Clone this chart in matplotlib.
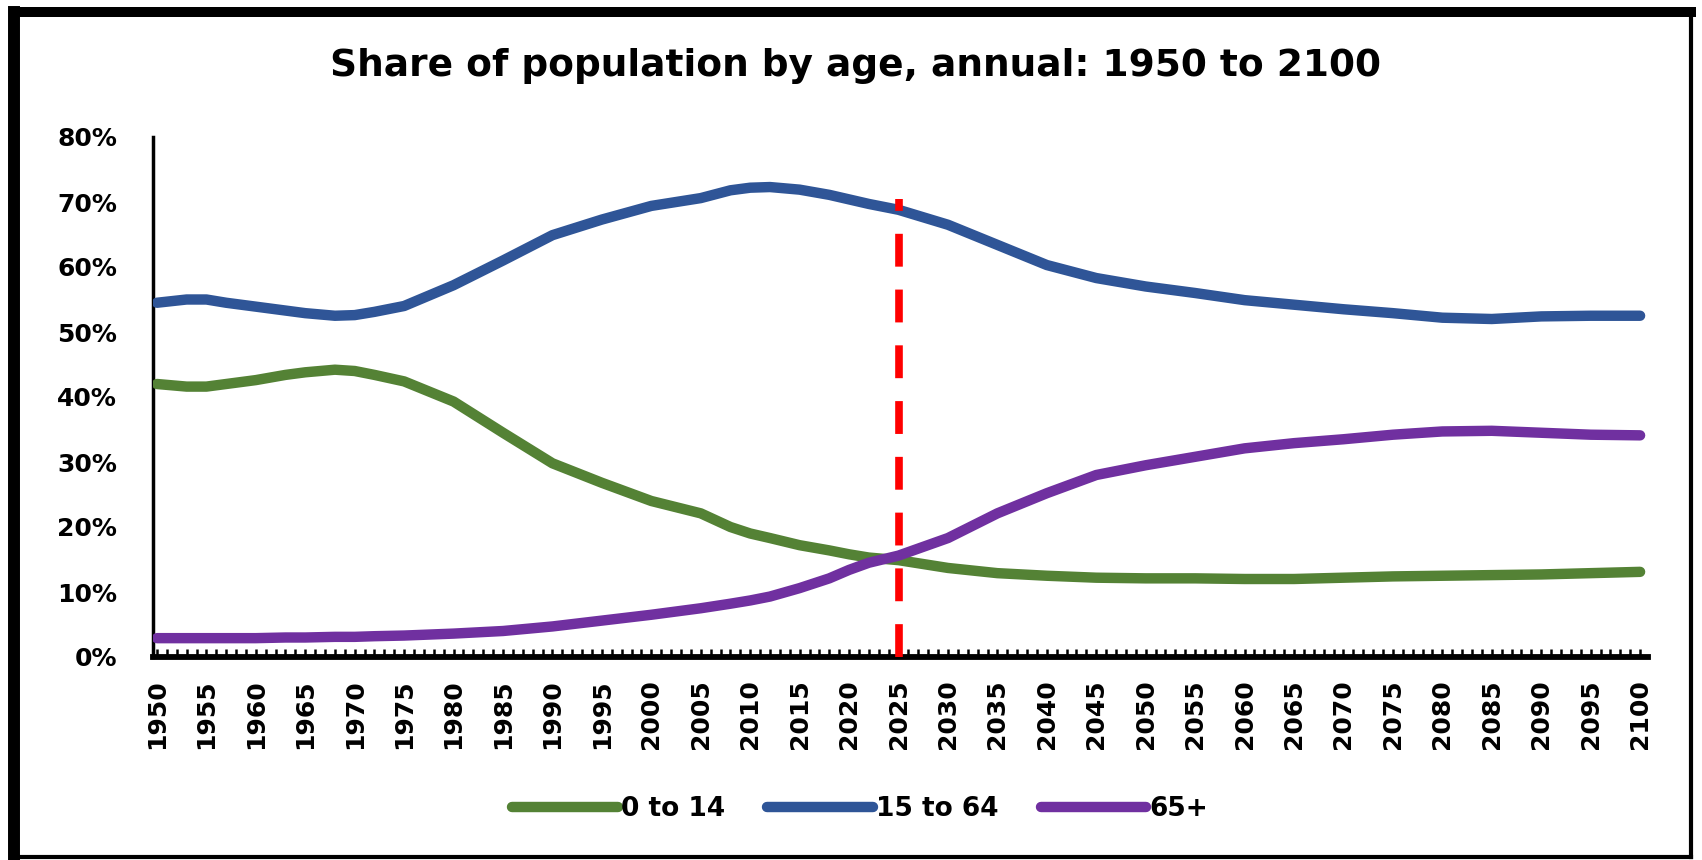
import matplotlib
matplotlib.use("Agg")
import matplotlib.pyplot as plt
from matplotlib.lines import Line2D
from matplotlib.ticker import MultipleLocator, FuncFormatter

# values (percent of population)
years = [1950, 1953, 1955, 1957, 1960, 1963, 1965, 1968, 1970, 1972, 1975,
         1980, 1985, 1990, 1995, 2000, 2005, 2008, 2010, 2012, 2015, 2018,
         2020, 2022, 2025, 2030, 2035, 2040, 2045, 2050, 2055, 2060, 2065,
         2070, 2075, 2080, 2085, 2090, 2095, 2100]
age_0_14 = [42.0, 41.6, 41.6, 42.0, 42.6, 43.4, 43.8, 44.2, 44.0, 43.4, 42.4,
            39.3, 34.5, 29.8, 26.8, 24.0, 22.1, 20.0, 19.0, 18.3, 17.2, 16.4,
            15.8, 15.3, 14.9, 13.7, 12.9, 12.5, 12.2, 12.1, 12.1, 12.0, 12.0,
            12.2, 12.4, 12.5, 12.6, 12.7, 12.9, 13.1]
age_15_64 = [54.5, 55.0, 55.0, 54.5, 53.9, 53.3, 52.9, 52.5, 52.6, 53.1, 54.0,
             57.2, 61.0, 64.9, 67.3, 69.4, 70.6, 71.8, 72.2, 72.3, 71.9, 71.1,
             70.4, 69.7, 68.8, 66.5, 63.4, 60.3, 58.3, 57.0, 56.0, 54.9, 54.2,
             53.5, 52.9, 52.2, 52.0, 52.4, 52.5, 52.5]
age_65_plus = [2.9, 2.9, 2.9, 2.9, 2.9, 3.0, 3.0, 3.1, 3.1, 3.2, 3.3,
               3.6, 4.0, 4.7, 5.6, 6.5, 7.5, 8.2, 8.7, 9.3, 10.6, 12.1,
               13.4, 14.5, 15.6, 18.3, 22.1, 25.2, 28.0, 29.5, 30.8, 32.1, 32.9,
               33.5, 34.2, 34.7, 34.8, 34.5, 34.2, 34.1]
series_names = ["0 to 14", "15 to 64", "65+"]
series_colors = ["#548235", "#2F5597", "#7030A0"]

cutoff_year = 2025
cutoff_top = 70.5

W, H = 1702, 860
fig = plt.figure(figsize=(W / 100, H / 100), dpi=100)
fig.patch.set_facecolor("white")

ax = fig.add_axes([153 / W, 1 - 657 / H, (1648 - 153) / W, (657 - 137) / H])

for vals, name, col in zip([age_0_14, age_15_64, age_65_plus], series_names, series_colors):
    ax.plot(years, vals, color=col, lw=7.5, solid_capstyle="round",
            solid_joinstyle="round", label=name, zorder=3)

ax.plot([cutoff_year, cutoff_year], [0, cutoff_top], color="#FF0000", lw=5.5,
        dashes=(4.3, 3.0), zorder=4)

ax.set_xlim(1949.6, 2100.8)
ax.set_ylim(0, 80)

ax.xaxis.set_major_locator(MultipleLocator(5))
ax.xaxis.set_minor_locator(MultipleLocator(1))
ax.yaxis.set_major_locator(MultipleLocator(10))
ax.yaxis.set_major_formatter(FuncFormatter(lambda v, p: f"{int(v)}%"))

ax.tick_params(axis="x", which="both", direction="in", length=6, width=1.8,
               color="black", pad=16)
ax.tick_params(axis="x", which="major", labelsize=18, labelrotation=90)
ax.tick_params(axis="y", length=0, pad=26, labelsize=18)
for lab in ax.get_xticklabels() + ax.get_yticklabels():
    lab.set_fontweight("bold")

for s in ["top", "right"]:
    ax.spines[s].set_visible(False)
ax.spines["bottom"].set_linewidth(4.2)
ax.spines["left"].set_linewidth(2.5)

fig.text(855 / W, 1 - 66 / H, "Share of population by age, annual: 1950 to 2100",
         ha="center", va="center", fontsize=27, fontweight="bold")

leg = fig.legend(loc="center", bbox_to_anchor=(860 / W, 1 - 809 / H), ncol=3,
                 frameon=False, handlelength=4.0, handletextpad=0.12,
                 columnspacing=1.6, prop={"size": 19, "weight": "bold"})

# outer frame around the picture
def frame_line(x0, y0, x1, y1, lw):
    fig.add_artist(Line2D([x0 / W, x1 / W], [1 - y0 / H, 1 - y1 / H],
                          transform=fig.transFigure, color="black", lw=lw,
                          solid_capstyle="projecting"))

frame_line(14, 12, 14, 857, 8.6)
frame_line(14, 12, 1691, 12, 7.2)
frame_line(1691, 12, 1691, 857, 3)
frame_line(14, 857, 1691, 857, 3)

fig.savefig("out.png", dpi=100)
